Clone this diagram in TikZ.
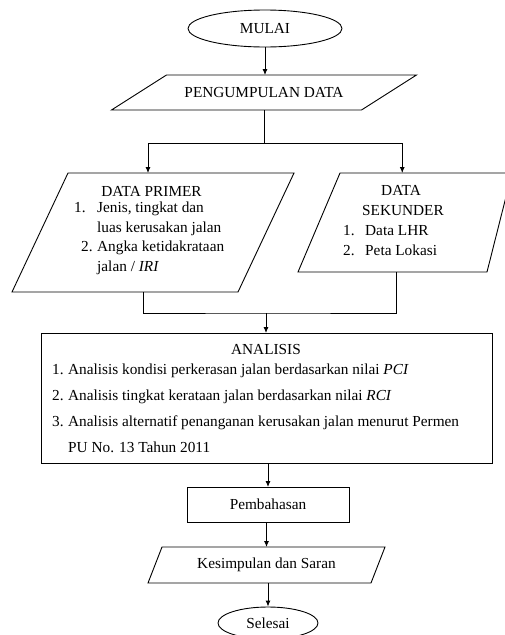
\documentclass[tikz,border=0pt]{standalone}
\usepackage{fontspec}
\setmainfont{Liberation Serif}
\usetikzlibrary{shapes.geometric,arrows.meta}

% jajar genjang round an empty node: #1 node, #2 left slant, #3 right slant
\newcommand{\jajar}[3]{%
	\draw[garis] ([xshift=#2]#1.north west) -- ([xshift=#3]#1.north east) -- ([xshift=-#3]#1.south east) -- ([xshift=-#2]#1.south west) -- cycle;}

\tikzset{
	garis/.style={line width=0.9pt},
	panah/.style={garis,-{Latex[length=6pt,width=5pt]}},
	kotak/.style={garis,draw,rectangle,inner sep=0pt,outer sep=0pt},
	bidang/.style={rectangle,inner sep=0pt,outer sep=0pt},
	oval/.style={garis,draw,ellipse,inner sep=0pt},
	teks/.style={anchor=base west,inner sep=0pt},
}

\begin{document}
\begin{tikzpicture}[x=1pt,y=-1pt,font=\fontsize{15.3}{18}\selectfont]
	\useasboundingbox (0,0) rectangle (505,635);
	%mulai
	\node (mulai) [oval,minimum width=154pt,minimum height=37pt] at (265,28.5) {MULAI};
	%pengumpulan data
	\node (kumpul) [bidang,minimum width=250pt,minimum height=35pt] at (264,92.5) {PENGUMPULAN DATA};
	\jajar{kumpul}{27.5pt}{27.5pt}
	\draw[panah] (mulai) -- (mulai |- kumpul.north);
	% data primer
	\node (primer) [bidang,minimum width=226pt,minimum height=119pt] at (153,232.5) {};
	\jajar{primer}{28pt}{28pt}
	\node (judulPrimer) [anchor=base,inner sep=0pt] at (151.5,196.5) {DATA PRIMER};
	\node (noP1) [teks] at (74,212) {1.};
	\node (isiP1) [teks] at (97,212) {Jenis, tingkat dan};
	\node (isiP1b) [teks] at (97,232) {luas kerusakan jalan};
	\node (noP2) [teks] at (81,251.5) {2.};
	\node (isiP2) [teks] at (97,251.5) {Angka ketidakrataan};
	\node (isiP2b) [teks] at (97,271.5) {jalan / \textit{IRI}};
	% data sekunder
	\node (sekunder) [bidang,minimum width=180.5pt,minimum height=99pt] at (409.25,222.5) {};
	\jajar{sekunder}{21pt}{12.5pt}
	\node (judulSek) [anchor=base,inner sep=0pt] at (401,195) {DATA};
	\node (judulSekb) [anchor=base,inner sep=0pt] at (403,215) {SEKUNDER};
	\foreach \n/\y/\isi in {1/235/Data LHR,2/255/Peta Lokasi}
		{\node (noS\n) [teks] at (343,\y) {\n.};
		\node (isiS\n) [teks] at (365,\y) {\isi};}
	% cabang
	\coordinate (cabang) at (264,143);
	\draw[garis] (kumpul) -- (cabang);
	\draw[panah] (cabang) -| ([xshift=-5pt]primer.north);
	\draw[panah] (cabang) -| ([xshift=-7pt]sekunder.north);
	% analisis
	\node (analisis) [kotak,minimum width=451pt,minimum height=130pt] at (266.5,398) {};
	\node (judulAnalisis) [anchor=base,inner sep=0pt] at (266,354) {ANALISIS};
	\foreach \n/\y/\isi in {1/374/{Analisis kondisi perkerasan jalan berdasarkan nilai \textit{PCI}},
		2/400/{Analisis tingkat kerataan jalan berdasarkan nilai \textit{RCI}},
		3/426.5/{Analisis alternatif penanganan kerusakan jalan menurut Permen}}
		{\node (noA\n) [teks] at (52,\y) {\n.};
		\node (isiA\n) [teks] at (68,\y) {\isi};}
	\node (isiA3b) [teks] at (68,452) {PU No. 13 Tahun 2011};
	% gabung
	\coordinate (gabung) at (266,313);
	\draw[garis] ([xshift=-10pt]primer.south) |- (gabung) -| ([xshift=-13pt]sekunder.south);
	\draw[panah] (gabung) -- (gabung |- analisis.north);
	% pembahasan
	\node (pembahasan) [kotak,minimum width=162pt,minimum height=35pt] at (268,504.5) {Pembahasan};
	\draw[panah] (pembahasan |- analisis.south) -- (pembahasan);
	% kesimpulan
	\node (kesimpulan) [bidang,minimum width=223pt,minimum height=36pt] at (266.5,565) {Kesimpulan dan Saran};
	\jajar{kesimpulan}{7pt}{7pt}
	\draw[panah] (kesimpulan |- pembahasan.south) -- (kesimpulan.north);
	% selesai
	\node (selesai) [oval,minimum width=100pt,minimum height=32pt] at (268,623) {Selesai};
	\draw[panah] (selesai |- kesimpulan.south) -- (selesai);
\end{tikzpicture}
\end{document}
